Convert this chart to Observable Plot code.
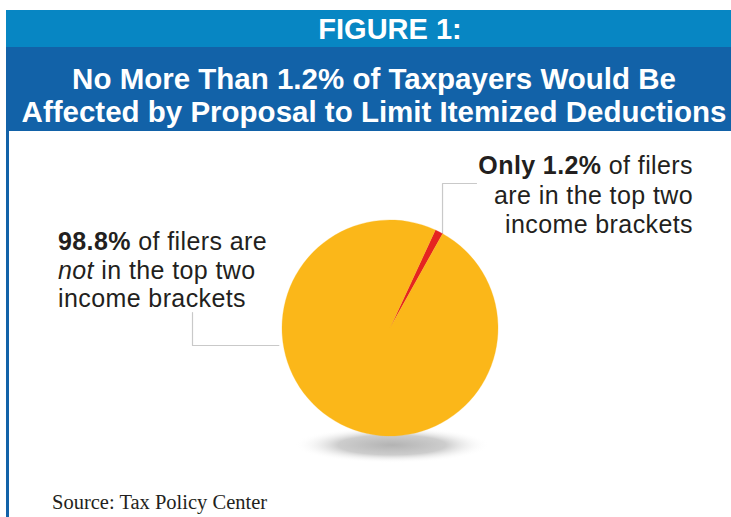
<!DOCTYPE html>
<html>
<head>
<meta charset="utf-8">
<script src="https://cdn.jsdelivr.net/npm/d3@7"></script>
<script src="https://cdn.jsdelivr.net/npm/@observablehq/plot@0.6"></script>
<style>
  html, body { margin: 0; padding: 0; background: #fff; }
  #page { position: relative; width: 731px; height: 517px; overflow: hidden; background: #fff; }
  .band1 { position: absolute; left: 6px; top: 10px; width: 730px; height: 37px; background: #0786c3; }
  .band2 { position: absolute; left: 6px; top: 47px; width: 730px; height: 84px; background: #1262a8; }
  .hdr { position: absolute; color: #fff; font-family: "Liberation Sans", Arial, sans-serif; font-weight: bold; white-space: nowrap; }
  .leftrule { position: absolute; left: 6px; top: 131px; width: 3px; height: 386px; background: #1262a8; }
  #chart { position: absolute; left: 0; top: 131px; width: 731px; }
  .caption { font-family: "Liberation Serif", "DejaVu Serif", serif; font-size: 20.5px; color: #231f20; padding-left: 52px; line-height: 32px; height: 32px; }
</style>
</head>
<body>
<div id="page">
  <div class="band1"></div>
  <div class="band2"></div>
  <div class="hdr" style="left:0;width:780px;top:13px;text-align:center;font-size:29px;line-height:33px;">FIGURE 1:</div>
  <div class="hdr" style="left:0;width:748px;top:62px;text-align:center;font-size:29.5px;line-height:33px;">No More Than 1.2% of Taxpayers Would Be<br>Affected by Proposal to Limit Itemized Deductions</div>
  <div class="leftrule"></div>
  <div id="chart"></div>
</div>
<script>
// ---- data ----
const categories = ["Top two income brackets", "Not in the top two income brackets"];
const shares = [1.2, 98.8];
const rightLabel = [
  [{t: "Only 1.2%", w: "bold"}, {t: " of filers"}],
  [{t: "are in the top two"}],
  [{t: "income brackets"}]
];
const leftLabel = [
  [{t: "98.8%", w: "bold"}, {t: " of filers are"}],
  [{t: "not", s: "italic"}, {t: " in the top two"}],
  [{t: "income brackets"}]
];
const sourceText = "Source: Tax Policy Center";

// ---- layout / styles ----
const W = 731, H = 355;
const sliceColors = ["#e52421", "#fbb719"];
const PIE = {cx: 390, cy: 197, r: 108, midAngleDeg: 27};
const textColor = "#231f20";
const leaderColor = "#c9c9c9";

const redFrac = shares[0] / d3.sum(shares);
const midA = PIE.midAngleDeg * Math.PI / 180;
const startA = midA - redFrac * Math.PI;

// leader lines derived from the pie geometry
const edgeR = [PIE.cx + PIE.r * Math.sin(midA), PIE.cy - PIE.r * Math.cos(midA)];
const rightLeader = [
  {x: edgeR[0] + 3, y: edgeR[1] + 1},
  {x: edgeR[0] + 3, y: PIE.cy - 145},
  {x: edgeR[0] + 37, y: PIE.cy - 145}
];
const leftY = PIE.cy + 17;
const leftEdgeX = PIE.cx - Math.sqrt(PIE.r * PIE.r - 17 * 17);
const leftLeader = [
  {x: PIE.cx - 198, y: PIE.cy - 16},
  {x: PIE.cx - 198, y: leftY},
  {x: leftEdgeX - 5, y: leftY}
];

function shadowMark(index, {x, y}) {
  const g = d3.create("svg:g");
  const grad = g.append("defs").append("radialGradient").attr("id", "pieShadow");
  grad.append("stop").attr("offset", "0%").attr("stop-color", "#b3b3b3");
  grad.append("stop").attr("offset", "55%").attr("stop-color", "#cdcdcd");
  grad.append("stop").attr("offset", "100%").attr("stop-color", "#ffffff").attr("stop-opacity", 0);
  g.append("ellipse")
    .attr("cx", x(PIE.cx + 2)).attr("cy", y(PIE.cy + 117))
    .attr("rx", x(PIE.cx + 98) - x(PIE.cx)).attr("ry", y(PIE.cy + 18) - y(PIE.cy))
    .attr("fill", "url(#pieShadow)");
  return g.node();
}

function pieMark(index, {x, y}) {
  const g = d3.create("svg:g");
  const cx = x(PIE.cx), cy = y(PIE.cy), r = x(PIE.cx + PIE.r) - cx;
  const arcs = d3.pie().sort(null).startAngle(startA).endAngle(startA + 2 * Math.PI)(shares);
  const arc = d3.arc().innerRadius(0).outerRadius(r);
  g.attr("transform", `translate(${cx},${cy})`)
    .selectAll("path").data(arcs).join("path")
    .attr("d", arc)
    .attr("fill", (d, i) => sliceColors[i])
    .attr("stroke", (d, i) => sliceColors[i])
    .attr("stroke-width", 0.3)
    .append("title").text((d, i) => `${categories[i]}: ${shares[i]}%`);
  return g.node();
}

function richLabel(lines, px, py, anchor, lineH) {
  return (index, {x, y}) => {
    const t = d3.create("svg:text")
      .attr("font-family", "'Liberation Sans', Arial, sans-serif")
      .attr("font-size", 25)
      .attr("letter-spacing", 0.4)
      .attr("fill", textColor)
      .attr("text-anchor", anchor);
    lines.forEach((segs, i) => {
      const line = t.append("tspan").attr("x", x(px)).attr("y", y(py + i * lineH));
      segs.forEach(s => {
        line.append("tspan")
          .attr("font-weight", s.w || "normal")
          .attr("font-style", s.s || "normal")
          .text(s.t);
      });
    });
    return t.node();
  };
}

const chart = Plot.plot({
  width: W,
  height: H,
  margin: 0,
  x: {domain: [0, W], range: [0, W], axis: null},
  y: {domain: [0, H], range: [0, H], axis: null},
  marks: [
    shadowMark,
    Plot.line(rightLeader, {x: "x", y: "y", stroke: leaderColor, strokeWidth: 1.2}),
    Plot.line(leftLeader, {x: "x", y: "y", stroke: leaderColor, strokeWidth: 1.2}),
    pieMark,
    richLabel(rightLabel, 693, 43, "end", 29.5),
    richLabel(leftLabel, 58, 119, "start", 28.5)
  ]
});
const holder = document.getElementById("chart");
holder.appendChild(chart);
const cap = document.createElement("div");
cap.className = "caption";
cap.textContent = sourceText;
holder.appendChild(cap);
</script>
</body>
</html>
